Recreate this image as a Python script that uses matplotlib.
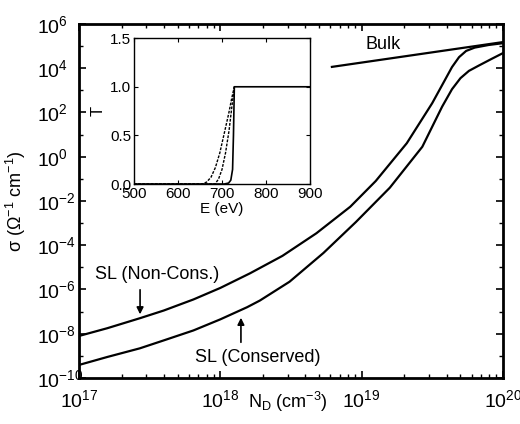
import numpy as np
import matplotlib
matplotlib.use("Agg")
import matplotlib.pyplot as plt
from matplotlib.ticker import LogLocator, NullFormatter, MultipleLocator

plt.rcParams['font.family'] = ['Liberation Sans', 'DejaVu Sans']
plt.rcParams['mathtext.fontset'] = 'custom'
plt.rcParams['mathtext.rm'] = 'Liberation Sans'
plt.rcParams['mathtext.it'] = 'Liberation Sans'
plt.rcParams['mathtext.default'] = 'regular'

# main panel: log10 of N_D (cm^-3) and log10 of sigma (Ohm^-1 cm^-1)
logN_noncons = [17.0, 17.2, 17.43, 17.6, 17.81, 18.0, 18.21, 18.44, 18.68, 18.92, 19.10,
                19.32, 19.50, 19.58, 19.64, 19.69, 19.74, 19.80, 19.90, 20.0]
logS_noncons = [-8.10, -7.75, -7.30, -6.95, -6.45, -5.93, -5.27, -4.48, -3.46, -2.26, -1.10,
                0.61, 2.42, 3.35, 4.05, 4.50, 4.78, 4.93, 5.05, 5.13]

logN_cons = [17.0, 17.2, 17.43, 17.6, 17.81, 18.0, 18.19, 18.28, 18.49, 18.73, 18.96,
             19.20, 19.43, 19.57, 19.64, 19.70, 19.76, 19.83, 19.92, 20.0]
logS_cons = [-9.41, -9.05, -8.66, -8.30, -7.85, -7.35, -6.80, -6.50, -5.65, -4.35, -2.95,
             -1.40, 0.45, 2.26, 3.05, 3.55, 3.88, 4.12, 4.42, 4.68]

logN_bulk = [18.79, 20.0]
logS_bulk = [4.06, 5.18]

# inset: transmission T vs E (eV)
E_solid = [500, 705, 715, 720, 724, 726, 728, 900]
T_solid = [0, 0, 0.01, 0.04, 0.15, 0.5, 1.0, 1.0]
E_dash1 = [500, 684, 692, 700, 708, 716, 722, 728]
T_dash1 = [0, 0, 0.05, 0.15, 0.32, 0.55, 0.78, 1.0]
E_dash2 = [500, 655, 665, 675, 685, 695, 705, 715, 722, 728]
T_dash2 = [0, 0, 0.02, 0.07, 0.17, 0.32, 0.52, 0.72, 0.88, 1.0]

fig = plt.figure(figsize=(5.2, 4.24), dpi=100)
ax = fig.add_axes([0.152, 0.1085, 0.815, 0.835])

lw = 1.6
ax.plot(10 ** np.array(logN_noncons), 10 ** np.array(logS_noncons), color='black', lw=lw)
ax.plot(10 ** np.array(logN_cons), 10 ** np.array(logS_cons), color='black', lw=lw)
ax.plot(10 ** np.array(logN_bulk), 10 ** np.array(logS_bulk), color='black', lw=lw)

ax.set_xscale('log')
ax.set_yscale('log')
ax.set_xlim(1e17, 1e20)
ax.set_ylim(1e-10, 1e6)
ax.yaxis.set_major_locator(LogLocator(base=100.0, numticks=20))
ax.yaxis.set_minor_locator(LogLocator(base=10.0, subs=[], numticks=20))
ax.yaxis.set_minor_formatter(NullFormatter())
ax.xaxis.set_minor_locator(LogLocator(base=10.0, subs=np.arange(2, 10), numticks=20))
ax.xaxis.set_minor_formatter(NullFormatter())
ax.tick_params(which='both', direction='in', top=True, right=True, labelsize=14)
ax.tick_params(which='major', length=5, width=1.2)
ax.tick_params(which='minor', length=3, width=1.0)
ax.tick_params(axis='y', pad=30)
ax.tick_params(axis='x', pad=8)
for lab in ax.get_yticklabels():
    lab.set_horizontalalignment('left')
for s in ax.spines.values():
    s.set_linewidth(2.0)

ax.set_ylabel('σ (Ω$^{-1}$ cm$^{-1}$)', fontsize=13)
ax.yaxis.set_label_coords(-0.12, 0.5)
fig.text(288 / 520, 1 - 402 / 424, 'N$_D$ (cm$^{-3}$)', fontsize=13, ha='center', va='center')

ax.text(0.717, 0.941, 'Bulk', transform=ax.transAxes, fontsize=13, ha='center', va='center')
ax.text(0.184, 0.291, 'SL (Non-Cons.)', transform=ax.transAxes, fontsize=13, ha='center', va='center')
ax.text(0.422, 0.059, 'SL (Conserved)', transform=ax.transAxes, fontsize=13, ha='center', va='center')
arrow = dict(arrowstyle='-|>', color='black', lw=1.2, mutation_scale=10)
ax.annotate('', xy=(0.144, 0.172), xytext=(0.144, 0.257), xycoords='axes fraction',
            textcoords='axes fraction', arrowprops=arrow)
ax.annotate('', xy=(0.382, 0.178), xytext=(0.382, 0.093), xycoords='axes fraction',
            textcoords='axes fraction', arrowprops=arrow)

# inset
ins = fig.add_axes([0.2577, 0.566, 0.3385, 0.344])
ins.plot(E_dash2, T_dash2, color='black', lw=1.0, ls=(0, (2, 1)))
ins.plot(E_dash1, T_dash1, color='black', lw=1.0, ls=(0, (2, 1)))
ins.plot(E_solid, T_solid, color='black', lw=1.2)
ins.set_xlim(500, 900)
ins.set_ylim(0, 1.5)
ins.xaxis.set_major_locator(MultipleLocator(100))
ins.yaxis.set_major_locator(MultipleLocator(0.5))
ins.yaxis.set_major_formatter(plt.FormatStrFormatter('%.1f'))
ins.tick_params(direction='in', top=True, right=True, labelsize=11, length=3, pad=2)
for s in ins.spines.values():
    s.set_linewidth(1.0)
ins.set_xlabel('E (eV)', fontsize=11, labelpad=1)
ins.set_ylabel('T', fontsize=12, labelpad=3)

fig.savefig('out.png', dpi=100)
